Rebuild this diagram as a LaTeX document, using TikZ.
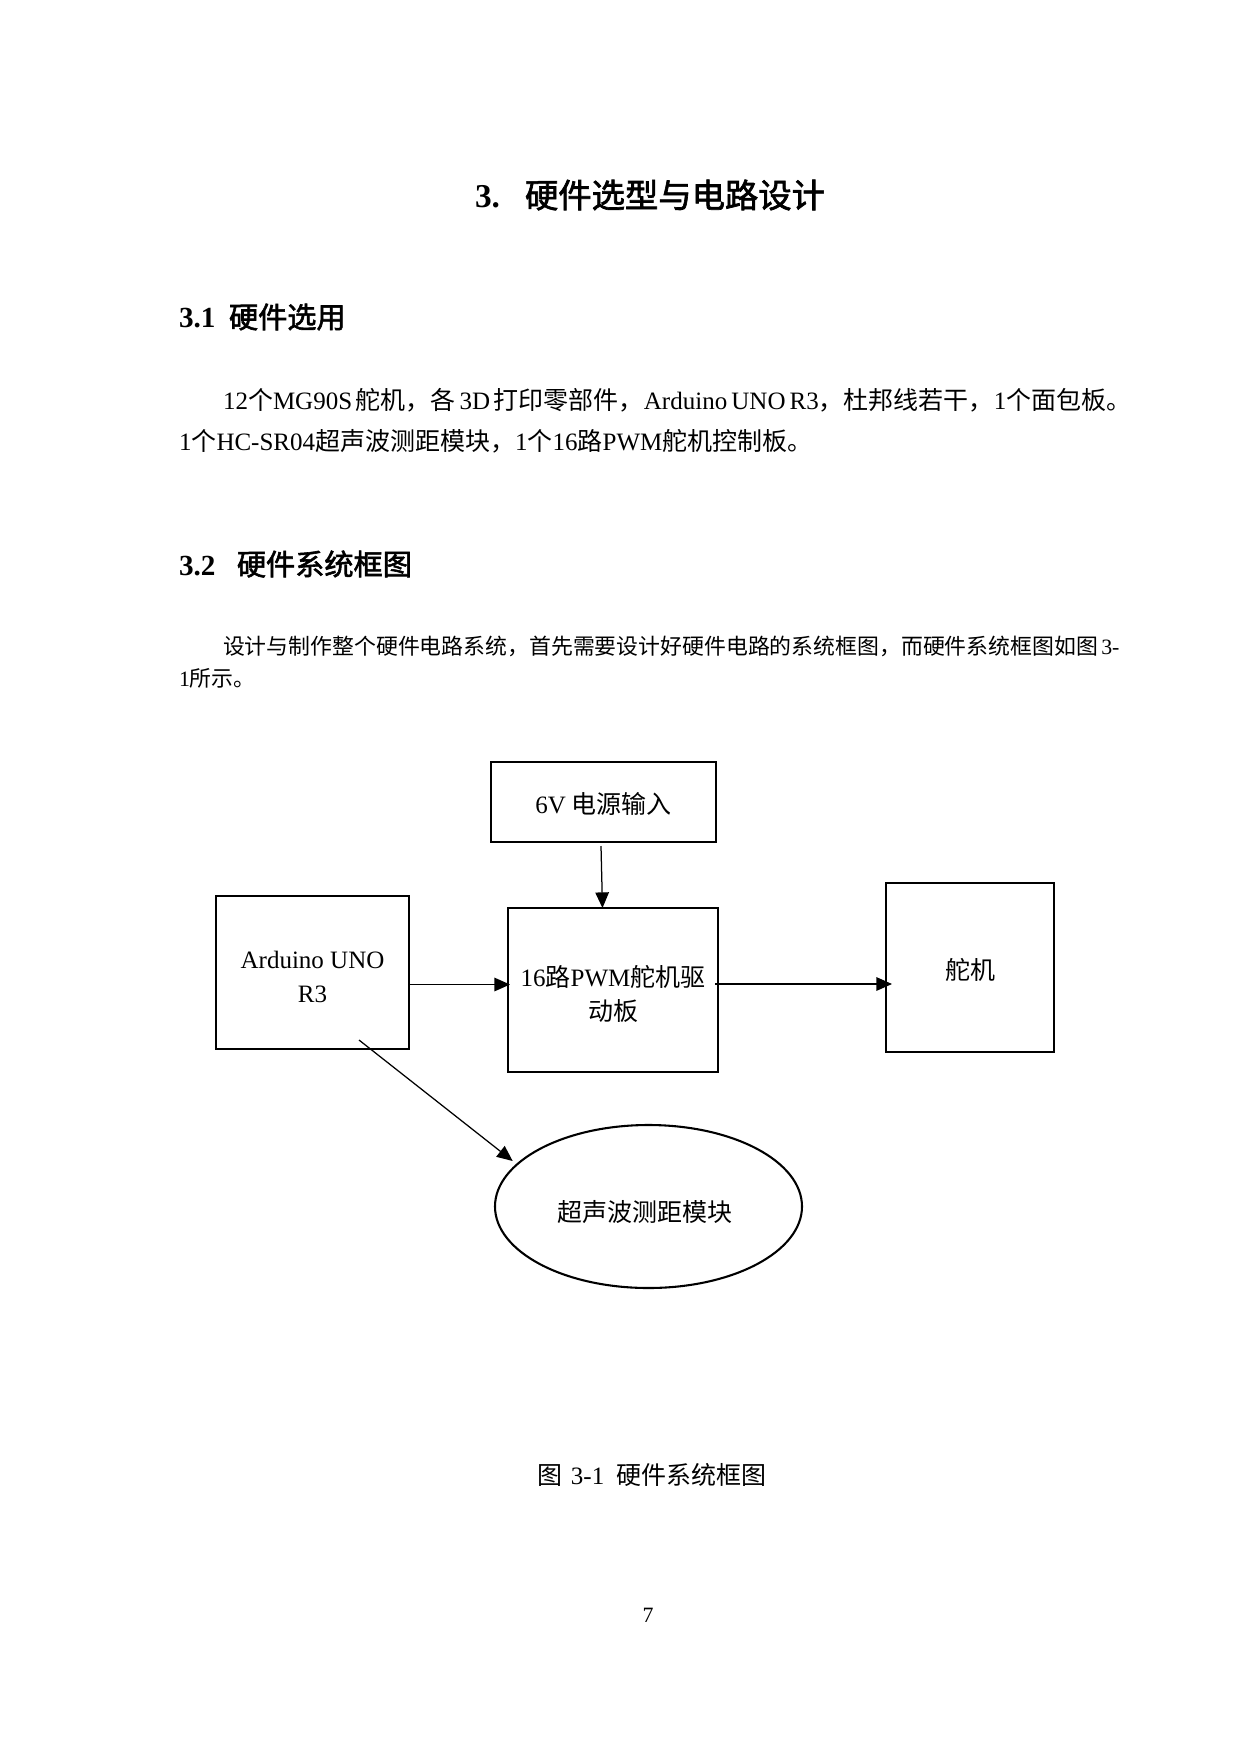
\documentclass[tikz,border=0pt]{standalone}
\usepackage{fontspec}
\setmainfont{Noto Sans CJK SC}[AutoFakeBold=2]
\newfontfamily\latn{Liberation Serif}
\usetikzlibrary{arrows.meta,shapes.geometric,calc}
\XeTeXlinebreaklocale "zh"
\XeTeXlinebreakskip=0pt plus 3pt minus 0.5pt
\newcommand\lowerby[2]{\raisebox{-#1}[\height][\depth]{#2}}
\begin{document}
\begin{tikzpicture}[x=0.48pt,y=-0.48pt,
  blk/.style={draw, line width=1pt, inner sep=0pt, outer sep=0pt, align=center,
    font=\fontsize{12pt}{16.5pt}\selectfont},
  arr/.style={line width=0.6pt, -{Triangle[length=7.5pt,width=6.5pt]}},
  txt/.style={inner sep=0pt, outer sep=0pt, anchor=west},
  body/.style={txt, font=\fontsize{12pt}{15pt}\selectfont},
  small/.style={txt, font=\fontsize{10.5pt}{13pt}\selectfont},
  head/.style={txt, font=\fontsize{14pt}{17pt}\selectfont\bfseries}]
\fill[white] (0,0) rectangle (1240,1754);
\useasboundingbox (0,0) rectangle (1240,1754);

% headings and text
\node[txt, font=\fontsize{16pt}{19pt}\selectfont\bfseries] (title) at (475,195)
  {{\latn\bfseries 3.}\hspace{0.75em}硬件选型与电路设计};
\node[head] (h1) at (179,317) {{\latn\bfseries 3.1}\hspace{6.5pt}硬件选用};
\node[body] (p1a) at (223,400) {\makebox[434.4pt][s]{{\latn 12}个{\latn MG90S} 舵机，各 {\latn 3D} 打印零部件，{\latn Arduino UNO R3}，杜邦线若干，{\latn 1}个面包板。}};
\node[body] (p1b) at (179,441) {\makebox[295.7pt][s]{{\latn 1}个{\latn HC-SR04}超声波测距模块，{\latn 1}个{\latn 16}路{\latn PWM}舵机控制板。}};
\node[head] (h2) at (179,564) {{\latn\bfseries 3.2}\hspace{10.3pt}硬件系统框图};
\node[small] (p2a) at (223,646) {\makebox[428.2pt][s]{设计与制作整个硬件电路系统，首先需要设计好硬件电路的系统框图，而硬件系统框图如图 {\latn 3-}}};
\node[small] (p2b) at (179,678) {{\latn 1}所示。};

% diagram
\node[blk, minimum width=108pt, minimum height=38.4pt] (v6) at (603.5,802) {\lowerby{1pt}{{\latn 6V} 电源输入}};
\node[blk, minimum width=92.64pt, minimum height=73.44pt] (ar) at (312.5,972.5) {\lowerby{2.2pt}{\latn Arduino UNO}\\\lowerby{2.2pt}{\latn R3}};
\node[blk, minimum width=100.8pt, minimum height=78.72pt] (pw) at (613,990) {\lowerby{2pt}{{\latn 16}路{\latn PWM}舵机驱}\\\lowerby{2pt}{动板}};
\node[blk, minimum width=80.64pt, minimum height=81.12pt] (sv) at (970,967.5) {\lowerby{1pt}{舵机}};
\node[blk, ellipse, minimum width=147.36pt, minimum height=78.24pt] (el) at (648.5,1206.5) {\hspace{-1.6pt}\lowerby{2.7pt}{超声波测距模块}\hspace{1.6pt}};

\draw[arr] ($(v6.south)+(-2.5,4)$) -- ($(pw.north)+(-10.5,0)$);
\draw[arr] ($(ar.east)+(0,12)$) -- ($(pw.west|-ar.east)+(2,12)$);
\draw[arr] ($(pw.east)+(-3,-6)$) -- ($(sv.west|-pw.east)+(6,-6)$);
\draw[arr] ($(ar.south)+(46.5,-9)$) -- ($(el.center)+(-135.8,-45.5)$);

% caption and page number
\node[body] (cap) at (537,1475) {图\hspace{4.3pt}{\latn 3-1}\hspace{5.8pt}硬件系统框图};
\node[inner sep=0pt, font=\fontsize{10.5pt}{12pt}\latn] (pg) at (648,1615) {7};
\end{tikzpicture}
\end{document}
